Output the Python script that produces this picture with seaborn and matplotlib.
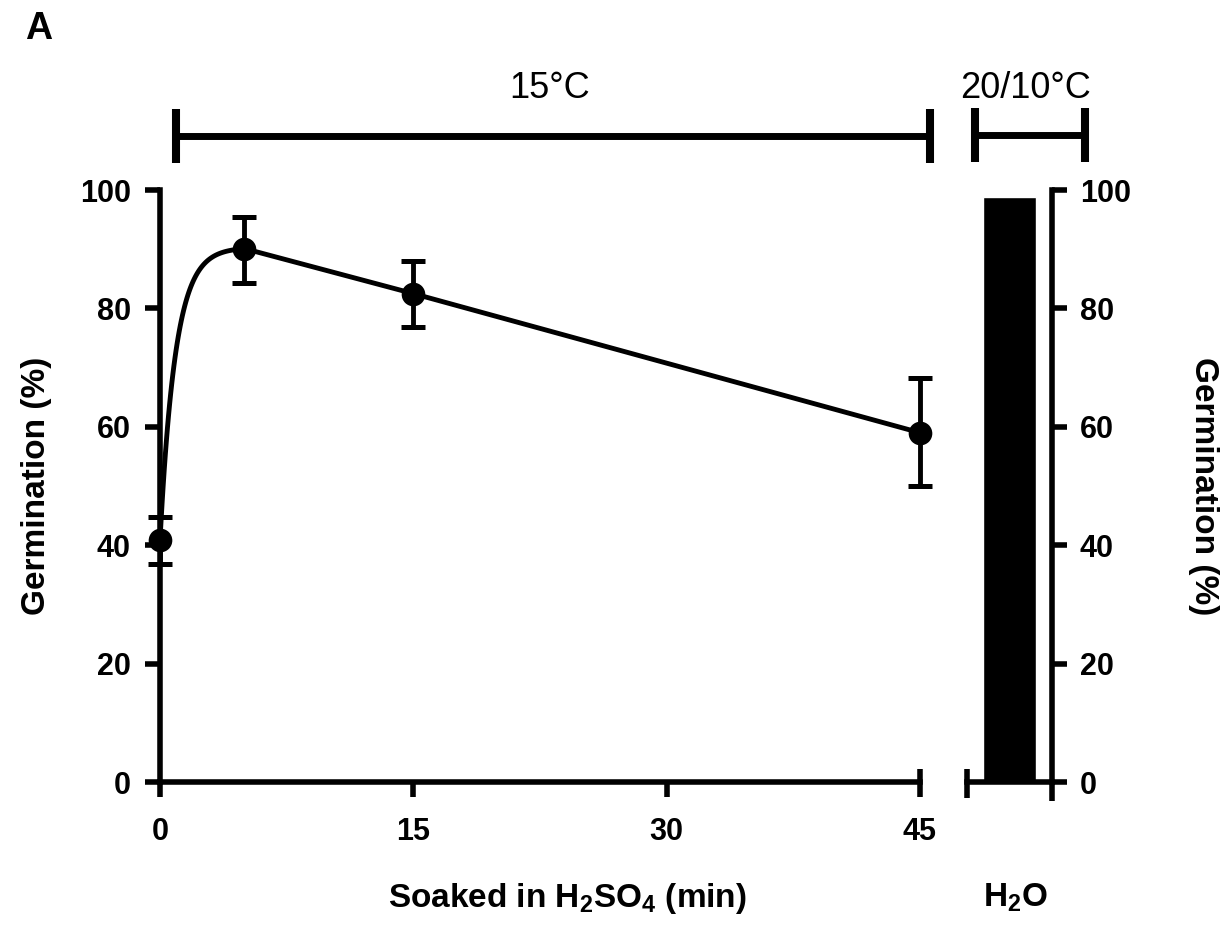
import matplotlib
matplotlib.use("Agg")
import matplotlib.pyplot as plt
from matplotlib.lines import Line2D
import numpy as np
import seaborn as sns

# values
soak_min = [0, 5, 15, 45]
germ_mean = [40.8, 90.1, 82.5, 59.0]
germ_hi = [44.8, 95.5, 88.0, 68.3]
germ_lo = [36.8, 84.3, 76.8, 50.0]
x_ticks = [0, 15, 30, 45]
y_ticks = [0, 20, 40, 60, 80, 100]
control_cat = ["H2O"]
control_germ = [98.8]
bracket_labels = ["15°C", "20/10°C"]

sns.set_theme(style="ticks")
plt.rcParams["font.family"] = ["Liberation Sans", "DejaVu Sans"]
plt.rcParams["mathtext.default"] = "regular"
plt.rcParams.update({
    "axes.edgecolor": "black",
    "axes.labelcolor": "black",
    "text.color": "black",
    "xtick.color": "black",
    "ytick.color": "black",
})

LW = 4.0
fig = plt.figure(figsize=(12.27, 9.31), dpi=100)

# left panel: soaked in acid
ax1 = fig.add_axes([160 / 1227, 1 - 782 / 931, 760 / 1227, 592 / 931])


def connector(xs, ys, k=1.1, n=80):
    # smooth rise over the first segment, straight segments afterwards
    t = np.linspace(xs[0], xs[1], n)
    frac = (1 - np.exp(-k * (t - xs[0]))) / (1 - np.exp(-k * (xs[1] - xs[0])))
    cx = list(t) + list(xs[2:])
    cy = list(ys[0] + (ys[1] - ys[0]) * frac) + list(ys[2:])
    return cx, cy


cx, cy = connector(soak_min, germ_mean)
sns.lineplot(x=cx, y=cy, sort=False, estimator=None, color="black", lw=3.5,
             ax=ax1, clip_on=False, zorder=3)
yerr = [np.array(germ_mean) - np.array(germ_lo), np.array(germ_hi) - np.array(germ_mean)]
ax1.errorbar(soak_min, germ_mean, yerr=yerr, fmt="none", ecolor="black",
             elinewidth=3.5, capsize=8.3, capthick=3.6, clip_on=False, zorder=3)
sns.scatterplot(x=soak_min, y=germ_mean, s=290, color="black", linewidth=0,
                ax=ax1, clip_on=False, zorder=4)

ax1.set_xlim(0, 45)
ax1.set_ylim(0, 100)
ax1.set_xticks(x_ticks)
ax1.set_yticks(y_ticks)
sns.despine(ax=ax1)
for s in ["left", "bottom"]:
    ax1.spines[s].set_linewidth(LW)
ax1.tick_params(axis="both", width=LW, length=11, labelsize=22, colors="black")
ax1.tick_params(axis="x", pad=14)
ax1.tick_params(axis="y", pad=10)
for lab in ax1.get_xticklabels() + ax1.get_yticklabels():
    lab.set_fontweight("bold")
# axis break marker at the end of the x axis
ax1.plot([1, 1], [0, 0.022], transform=ax1.transAxes, color="black", lw=LW,
         clip_on=False, solid_capstyle="butt")

ax1.set_ylabel("Germination (%)", fontsize=24, fontweight="bold")
ax1.yaxis.set_label_coords(-0.163, 0.5)
ax1.yaxis.label.set(va="center", ha="center")
ax1.set_xlabel("Soaked in H$_2$SO$_4$ (min)", fontsize=24, fontweight="bold")
ax1.xaxis.set_label_coords(0.536, -0.168)
ax1.xaxis.label.set(va="top")

# right panel: water control
ax2 = fig.add_axes([967 / 1227, 1 - 782 / 931, 85 / 1227, 592 / 931])
sns.barplot(x=control_cat, y=control_germ, color="black", saturation=1,
            width=0.62, ax=ax2)
ax2.set_xlim(-0.5, 0.5)
ax2.set_ylim(0, 100)
ax2.set_xticks([])
ax2.set_yticks(y_ticks)
for s in ["left", "top"]:
    ax2.spines[s].set_visible(False)
for s in ["right", "bottom"]:
    ax2.spines[s].set_visible(True)
    ax2.spines[s].set_linewidth(LW)
ax2.yaxis.tick_right()
ax2.tick_params(axis="y", width=LW, length=11, labelsize=22, pad=9, colors="black",
                left=False, right=True)
for lab in ax2.get_yticklabels():
    lab.set_fontweight("bold")
ax2.plot([0, 0], [-0.027, 0.022], transform=ax2.transAxes, color="black", lw=LW,
         clip_on=False, solid_capstyle="butt")
ax2.plot([1, 1], [0, -0.032], transform=ax2.transAxes, color="black", lw=LW,
         clip_on=False, solid_capstyle="butt")
ax2.set_xlabel("H$_2$O", fontsize=24, fontweight="bold")
ax2.xaxis.set_label_coords(0.57, -0.168)
ax2.xaxis.label.set(va="top")
ax2.yaxis.set_label_position("right")
ax2.set_ylabel("Germination (%)", fontsize=24, fontweight="bold", rotation=-90)
ax2.yaxis.set_label_coords((1204 - 967) / 85, 0.5)
ax2.yaxis.label.set(va="center", ha="center")

# temperature brackets above the panels
def bracket(x0, x1, y, label, tx):
    W, H = 1227, 931
    fy = 1 - y / H
    fig.add_artist(Line2D([x0 / W, x1 / W], [fy, fy], color="black", lw=5))
    for xx in (x0, x1):
        fig.add_artist(Line2D([xx / W, xx / W], [1 - (y - 27) / H, 1 - (y + 27) / H],
                              color="black", lw=5.8, solid_capstyle="butt"))
    fig.text(tx / W, 1 - 88 / H, label, fontsize=26, ha="center", va="center")


bracket(176, 930, 136, bracket_labels[0], 550)
bracket(975, 1085, 135, bracket_labels[1], 1026)

fig.text(39 / 1227, 1 - 29 / 931, "A", fontsize=27, fontweight="bold",
         ha="center", va="center")

fig.savefig("out.png", dpi=100)
